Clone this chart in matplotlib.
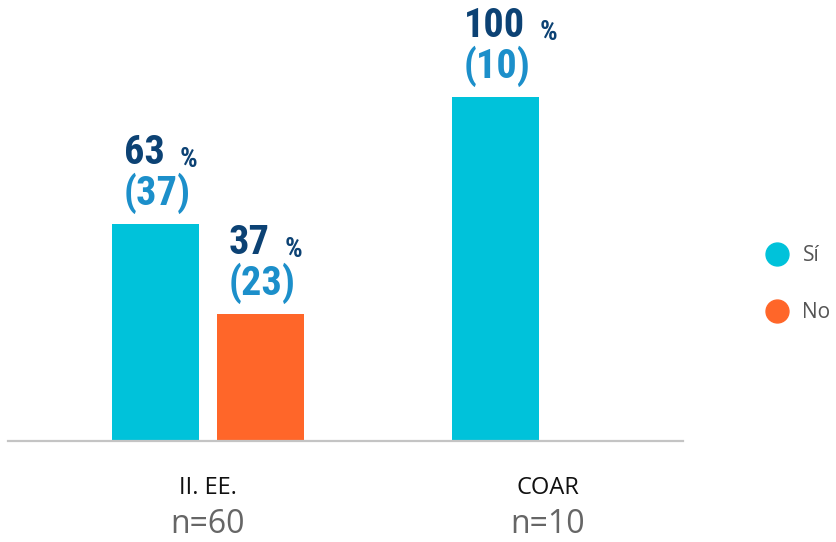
import matplotlib
matplotlib.use("Agg")
import matplotlib.pyplot as plt
import numpy as np
from matplotlib import font_manager
from matplotlib.lines import Line2D

categories = ["II. EE.", "COAR"]
sample_sizes = ["n=60", "n=10"]
series_names = ["Sí", "No"]
si_pct = [63, 100]
no_pct = [37, 0]
si_count = [37, 10]
no_count = [23, 0]

CYAN = "#00C2DA"
ORANGE = "#FF6629"
NAVY = "#0C4274"
LIGHT_BLUE = "#1C8FCA"

installed = {f.name for f in font_manager.fontManager.ttflist}
value_font = next(
    (name for name in ["Liberation Sans Narrow", "Roboto Condensed", "Open Sans Condensed"]
     if name in installed),
    "DejaVu Sans",
)
label_font = "Open Sans" if "Open Sans" in installed else "DejaVu Sans"

PX = 0.72  # points per pixel at dpi 100

fig = plt.figure(figsize=(8.37, 5.42), dpi=100)
ax = fig.add_axes([8 / 837, 101 / 542, 675 / 837, 441 / 542])

x = np.arange(len(categories))
width = 0.256
offset = 0.154

bars_si = ax.bar(x - offset, si_pct, width, color=CYAN)
bars_no = ax.bar(x + offset, no_pct, width, color=ORANGE)


def label_bar(bar, pct, count):
    if pct <= 0:
        return
    cx = bar.get_x() + bar.get_width() / 2
    top = bar.get_height()
    num = ax.annotate(
        f"{pct}", (cx, top), xytext=(-32 * PX, 60 * PX), textcoords="offset points",
        ha="left", va="baseline", fontsize=29, fontweight="bold",
        color=NAVY, family=value_font,
    )
    ax.annotate(
        "%", (1, 0), xycoords=num, xytext=(15 * PX, 3.5), textcoords="offset points",
        ha="left", va="baseline", fontsize=20, fontweight="bold",
        color=NAVY, family=value_font,
    )
    ax.annotate(
        f"({count})", (cx, top), xytext=(-32 * PX, 19 * PX), textcoords="offset points",
        ha="left", va="baseline", fontsize=29, fontweight="bold",
        color=LIGHT_BLUE, family=value_font,
    )


for bar, pct, count in zip(bars_si, si_pct, si_count):
    label_bar(bar, pct, count)
for bar, pct, count in zip(bars_no, no_pct, no_count):
    label_bar(bar, pct, count)

ax.set_xlim(-0.588, 1.397)
ax.set_ylim(0, 128.2)

for side in ["top", "right", "left"]:
    ax.spines[side].set_visible(False)
ax.spines["bottom"].set_color("#C4C4C4")
ax.spines["bottom"].set_linewidth(1.6)
ax.set_yticks([])
ax.set_xticks(x)
ax.set_xticklabels(categories, fontsize=17, color="#111111", family=label_font)
ax.tick_params(axis="x", length=0, pad=25)

for xi, n in zip(x, sample_sizes):
    ax.annotate(
        n, (xi, 0), xytext=(0, -92 * PX), textcoords="offset points",
        ha="center", va="baseline", fontsize=23, color="#666666",
        family=label_font, annotation_clip=False,
    )

handles = [
    Line2D([], [], marker="o", linestyle="", markersize=16.5, color=c)
    for c in (CYAN, ORANGE)
]
fig.legend(
    handles, series_names, loc="upper left",
    bbox_to_anchor=(765 / 837, (542 - 245) / 542),
    frameon=False, borderpad=0, borderaxespad=0,
    handlelength=1.2, handletextpad=0.6, labelspacing=1.75,
    prop={"family": label_font, "size": 15}, labelcolor="#555555",
)

fig.savefig("out.png", dpi=100)
